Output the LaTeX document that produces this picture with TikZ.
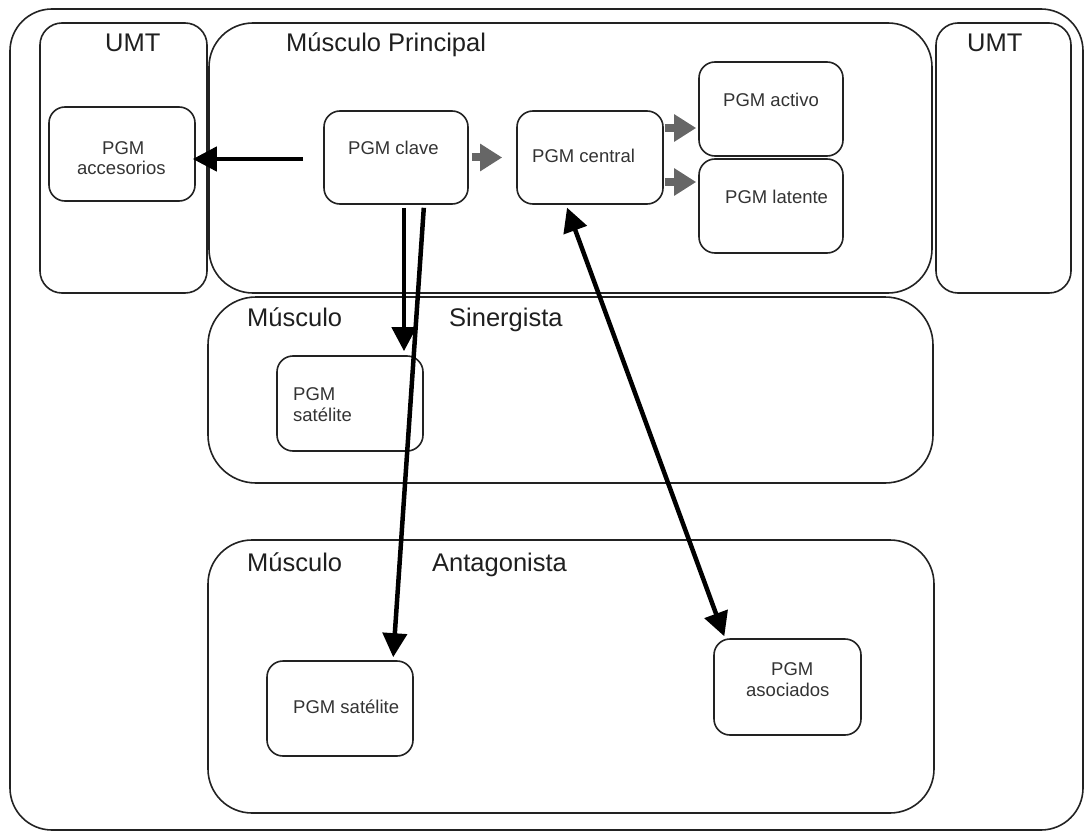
\documentclass[tikz,border=0pt]{standalone}
\usepackage{fontspec}
\setmainfont{Liberation Sans}
\usetikzlibrary{arrows.meta}
\definecolor{edge}{HTML}{222222}
\definecolor{txt}{HTML}{333333}
\definecolor{garrow}{HTML}{666666}
\begin{document}
\begin{tikzpicture}[x=1pt,y=-1pt,
  box/.style={draw=edge,line width=1.6pt,rounded corners=#1,inner sep=0pt,fill=none},
  box/.default=16pt,
  big/.style={font=\fontsize{25.5}{30}\selectfont,text=black!88,inner sep=0pt,anchor=base west},
  small/.style={font=\fontsize{18.5}{22}\selectfont,text=txt,inner sep=0pt,anchor=base west},
  blk/.style={draw=black,line width=4.5pt,-{Triangle[length=24pt,width=24pt]}},
  dbl/.style={draw=black,line width=4.5pt,{Triangle[length=24pt,width=24pt]}-{Triangle[length=24pt,width=24pt]}},
  gry/.style={draw=garrow,line width=8pt,-{Triangle[length=22pt,width=26pt]}}]
\useasboundingbox (0,0) rectangle (1087,832);
% containers
\node[box=42pt,minimum width=1073pt,minimum height=821pt] (outer) at (546.5,419.5) {};
\node[box=22pt,minimum width=167pt,minimum height=270pt] (umtL) at (123.5,158) {};
\node[box=44pt,minimum width=723pt,minimum height=270pt] (princ) at (570.5,158) {};
\node[box=22pt,minimum width=135pt,minimum height=270pt] (umtR) at (1003.5,158) {};
\node[box=48pt,minimum width=725pt,minimum height=186pt] (sin) at (570.5,390) {};
\node[box=44pt,minimum width=726pt,minimum height=273pt] (ant) at (571,676.5) {};
% inner boxes
\node[box,minimum width=146pt,minimum height=94pt] (acc) at (122,154) {};
\node[box,minimum width=144pt,minimum height=93pt] (clave) at (396,157.5) {};
\node[box,minimum width=146pt,minimum height=93pt] (central) at (590,157.5) {};
\node[box,minimum width=144pt,minimum height=94pt] (activo) at (771,109) {};
\node[box,minimum width=144pt,minimum height=94pt] (latente) at (771,206) {};
\node[box,minimum width=146pt,minimum height=95pt] (satsyn) at (350,403.5) {};
\node[box,minimum width=146pt,minimum height=95pt] (satant) at (340,708.5) {};
\node[box,minimum width=147pt,minimum height=96pt] (asoc) at (787.5,687) {};
% titles
\node[big] (tumtL) at (105,52) {UMT};
\node[big] (tprinc) at (286,52) {Músculo Principal};
\node[big] (tumtR) at (967,52) {UMT};
\node[big] (tsin1) at (247,326) {Músculo};
\node[big] (tsin2) at (449,326) {Sinergista};
\node[big] (tant1) at (247,571) {Músculo};
\node[big] (tant2) at (432,571) {Antagonista};
% labels
\node[small] (lacc1) at (102,154) {PGM};
\node[small] (lacc2) at (77,175) {accesorios};
\node[small] (lclave) at (348,154) {PGM clave};
\node[small] (lcentral) at (532,162) {PGM central};
\node[small] (lactivo) at (723,107) {PGM activo};
\node[small] (llatente) at (725,203) {PGM latente};
\node[small] (lsyn1) at (293,400) {PGM};
\node[small] (lsyn2) at (293,421) {satélite};
\node[small] (lant) at (293,713) {PGM satélite};
\node[small] (lasoc1) at (771,675) {PGM};
\node[small] (lasoc2) at (746,696) {asociados};
% connectors
\draw[blk,shorten <=20pt,shorten >=-3pt] ([yshift=-1.5pt]clave.west) -- ([yshift=-1.5pt]clave.west -| acc.east);
\draw[gry,shorten <=3pt,shorten >=14pt] (clave.east) -- (central.west);
\coordinate (ca) at ([yshift=29.5pt]central.east);
\coordinate (cl) at ([yshift=-24.5pt]central.east);
\draw[gry,shorten <=1pt,shorten >=2pt] (ca) -- (ca -| activo.west);
\draw[gry,shorten <=1pt,shorten >=2pt] (cl) -- (cl -| latente.west);
\coordinate (v1) at ([xshift=8pt]clave.south);
\draw[blk,shorten <=3pt,shorten >=4pt] (v1) -- (v1 |- satsyn.north);
\coordinate (s1) at ([xshift=28pt]clave.south);
\coordinate (s2) at ([xshift=53pt]satant.north);
\draw[blk,shorten <=3pt,shorten >=3pt] (s1) -- (s2);
\coordinate (d1) at ([xshift=-24pt]central.south);
\coordinate (d2) at ([xshift=-62.5pt]asoc.north);
\draw[dbl,shorten <=3pt,shorten >=2pt] (d1) -- (d2);
\end{tikzpicture}
\end{document}
